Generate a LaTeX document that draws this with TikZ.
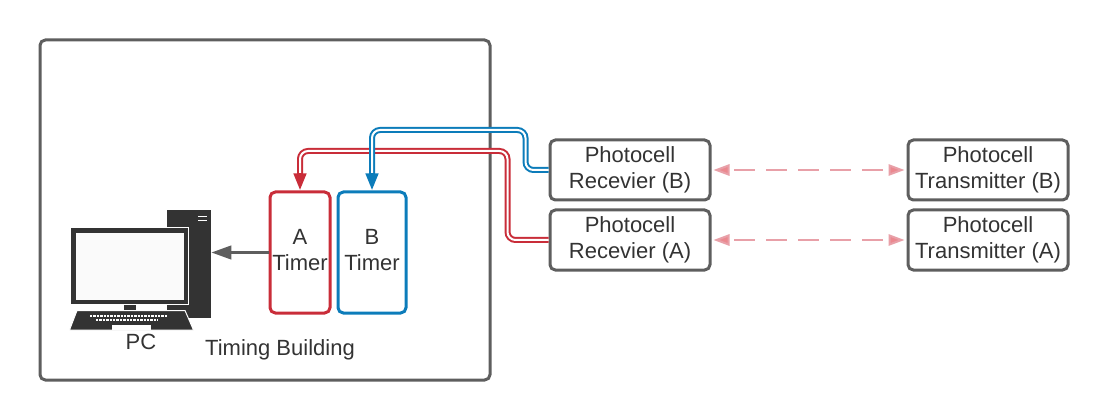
\documentclass[tikz,border=0pt]{standalone}
\usepackage{fontspec}
\setmainfont{Liberation Sans}
\usetikzlibrary{arrows.meta,calc,positioning}
\definecolor{boxgray}{HTML}{5E5E5E}
\definecolor{textgray}{HTML}{333333}
\definecolor{timerred}{HTML}{C92D39}
\definecolor{timerblue}{HTML}{0C7CBA}
\definecolor{beampink}{HTML}{E8A0A8}
\definecolor{iconblack}{HTML}{333333}

\begin{document}
\begin{tikzpicture}[
  x=0.75pt, y=-0.75pt,
  font=\fontsize{16.5}{19.5}\selectfont,
  text=textgray,
  node distance=5.25pt,
  unit/.style={draw=boxgray, line width=2.25pt, rounded corners=4pt, align=center,
               minimum width=120pt, minimum height=45pt, inner sep=0pt},
  timer/.style={line width=2.25pt, rounded corners=4pt,
                minimum height=90.75pt, inner sep=0pt},
  timertext/.style={align=center, inner sep=0pt, yshift=1.5pt},
  wire/.style={line width=1.5pt, double=white, double distance=1.5pt, rounded corners=6pt,
               shorten >=12pt},
  tipred/.style={-{Triangle[length=12.75pt,width=9pt,sep=0pt]}, timerred, line width=3pt},
  tipblue/.style={-{Triangle[length=12.75pt,width=9pt,sep=0pt]}, timerblue, line width=3pt},
  beam/.style={{Triangle[length=12pt,width=8.5pt,fill=beampink!85!red]}-{Triangle[length=12pt,width=8.5pt,fill=beampink!85!red]},
               beampink, line width=1.5pt, dash pattern=on 15.75pt off 8.25pt, dash phase=20pt},
  feed/.style={-{Triangle[length=15pt,width=10pt,sep=0pt]}, boxgray, line width=2.25pt}]
\useasboundingbox (0,0) rectangle (1109,420);
% building
\node[draw=boxgray, line width=2.25pt, rounded corners=4pt, minimum width=337.5pt, minimum height=255pt,
      inner sep=0pt] (building) at (265,210) {};
% timers
\node[timer, draw=timerred, minimum width=45pt] (timerA) at (300,252.5) {};
\node[timer, draw=timerblue, minimum width=51pt, right=3.75pt of timerA] (timerB) {};
\node[timertext] (labelA) at (timerA) {A\\Timer};
\node[timertext, yshift=0.5pt] (labelB) at (timerB) {B\\Timer};
% photocells
\node[unit] (recvB) at (630,170) {Photocell\\Recevier (B)};
\node[unit, below=of recvB] (recvA) {Photocell\\Recevier (A)};
\node[unit, right=146.25pt of recvB] (sendB) {Photocell\\Transmitter (B)};
\node[unit, right=146.25pt of recvA] (sendA) {Photocell\\Transmitter (A)};
% pc icon
\node[fill=iconblack, minimum width=33pt, minimum height=81pt, inner sep=0pt] (tower) at (189,264) {};
\draw[white, line width=1.2pt] (198,216.5) -- (207,216.5) (198,220.5) -- (207,220.5);
\draw[white, line width=0.75pt, fill=iconblack] (70,227.5) rectangle (188.5,304);
\fill[white!98!black] (76,233) rectangle (183.5,299.5);
\fill[iconblack] (124,304.5) rectangle (136,310);
\draw[white, line width=0.75pt, fill=iconblack] (77,310.5) -- (185,310.5) -- (193.5,330) -- (69.5,330) -- cycle;
\draw[white, line width=1.5pt, dash pattern=on 1.8pt off 0.75pt] (90,316) -- (168,316);
\draw[white, line width=1.5pt, dash pattern=on 1.8pt off 0.75pt] (96,319.5) -- (158,319.5);
\fill[white] (112,325) rectangle (151,329.5);
% labels
\node (pc) at (141,342) {PC};
\node (site) at (280,350) {Timing Building};
% connectors
\draw[wire, timerred] (recvA.west) -| ++(-41,-89) -| (timerA.north);
\draw[tipred] ($(timerA.north)+(0,-17)$) -- (timerA.north);
\draw[wire, timerblue] (recvB.west) -| ++(-23,-40) -| (timerB.north);
\draw[tipblue] ($(timerB.north)+(0,-17)$) -- (timerB.north);
\draw[feed] (timerA.west) -- (timerA.west -| tower.east);
\draw[beam] (recvB.east) ++(2,0) -- ($(sendB.west)+(-2,0)$);
\draw[beam] (recvA.east) ++(2,0) -- ($(sendA.west)+(-2,0)$);
\end{tikzpicture}
\end{document}
